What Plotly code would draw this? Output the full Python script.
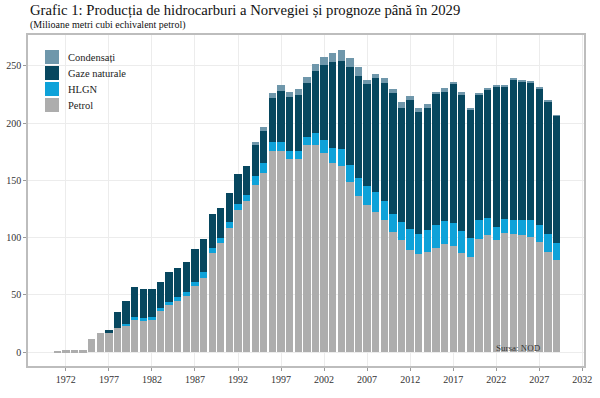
import plotly.graph_objects as go

years = list(range(1971, 2030))

petrol = [0.5, 1.7, 1.7, 1.7, 11, 16.3, 16.3, 20.7, 23, 28,
          27.4, 28, 35.8, 41, 44.6, 49.2, 57.7, 65, 86.2, 95,
          108.7, 124.1, 132.3, 146, 156.7, 175.7, 175.7, 168.5, 168.5, 181,
          181, 173.7, 164.9, 162.6, 148.9, 136.4, 128.5, 122.6, 115, 104.5,
          97.9, 89.5, 85.5, 87.7, 90.6, 94.1, 92.7, 86.3, 83.3, 98.5,
          102.3, 97.9, 104.3, 103.1, 102.3, 100.8, 96.4, 87.7, 80]

hlgn = [0, 0, 0, 0, 0, 0, 0, 0, 1.5, 2.9,
        2.0, 2.6, 2.4, 2.4, 3.8, 3.5, 3.8, 4.6, 5.0, 4.9,
        4.9, 5.0, 4.9, 7.8, 8.2, 7.6, 7.6, 7.5, 7.5, 7.2,
        10.2, 11.6, 13.7, 14.6, 14.6, 15.4, 16.6, 17.5, 17.0, 15.9,
        16.0, 18.3, 17.9, 18.9, 20.4, 20.4, 20.3, 19.7, 16.6, 16.9,
        14.6, 11.6, 12.0, 12.3, 13.1, 14.6, 14.6, 15.2, 15.5]

gaze = [0, 0, 0, 0, 0, 0, 2.9, 14.3, 20.1, 25.6,
        25.6, 24.4, 23.3, 26.2, 24.7, 26.3, 28.3, 28.9, 29.2, 25.7,
        25.1, 26.2, 25.7, 27.2, 28.6, 39.0, 44.8, 47.2, 48.4, 47.2,
        54.4, 65.6, 74.4, 77.4, 85.9, 89.5, 89.2, 99.1, 103.0, 105.7,
        99.7, 112.5, 106.7, 106.4, 114.2, 113.0, 121.3, 119.2, 112.2, 109.9,
        112.2, 122.2, 115.4, 122.4, 120.9, 120.0, 119.5, 115.9, 110.8]

condensati = [0, 0, 0, 0, 0, 0, 0, 0, 0, 0,
              0, 0, 0, 0, 0, 0, 0, 0, 0, 0,
              0, 0, 0, 2.3, 2.9, 3.8, 5.3, 4.3, 5.2, 5.3,
              5.9, 7.2, 8.0, 9.4, 7.3, 7.6, 3.0, 3.5, 4.4, 3.8,
              4.7, 3.8, 3.5, 3.5, 2.3, 3.0, 2.0, 1.7, 1.4, 0.8,
              0.8, 0.8, 0.8, 1.4, 0.8, 0.8, 0.8, 0.8, 0.5]

series_names = ["Petrol", "HLGN", "Gaze naturale", "Condensați"]
series_values = [petrol, hlgn, gaze, condensati]
series_colors = ["#adadad", "#0ea2d9", "#07475f", "#6f97ab"]

x_ticks = list(range(1972, 2033, 5))
y_ticks = [0, 50, 100, 150, 200, 250]

FONT = "Liberation Serif"
W, H = 600, 398
ML, MR, MT, MB = 28, 16, 35, 32
PW, PH = W - ML - MR, H - MT - MB

fig = go.Figure()
for name, vals, col in zip(series_names, series_values, series_colors):
    fig.add_trace(go.Bar(x=years, y=vals, name=name, showlegend=False,
                         marker=dict(color=col, line=dict(width=0))))

# legend drawn as swatches + labels (top-left inside panel), Condensați first
shapes = []
annotations = []
leg_x0, leg_top, box, step, text_x = 45, 50, 14, 16, 66
for i, (name, col) in enumerate(zip(series_names[::-1], series_colors[::-1])):
    top = leg_top + i * step
    shapes.append(dict(type="rect", xref="paper", yref="paper",
                       x0=(leg_x0 - ML) / PW, x1=(leg_x0 + box - ML) / PW,
                       y0=1 - (top + box - MT) / PH, y1=1 - (top - MT) / PH,
                       fillcolor=col, line=dict(width=0), layer="above"))
    annotations.append(dict(text=name, xref="paper", yref="paper",
                            x=(text_x - ML) / PW, y=1 - (top + box / 2 - MT) / PH,
                            xanchor="left", yanchor="middle", showarrow=False,
                            font=dict(family=FONT, size=10.5, color="#222222")))

annotations += [
    dict(text="Grafic 1: Producția de hidrocarburi a Norvegiei și prognoze până în 2029",
         xref="paper", yref="paper", x=0.0, y=1 + (MT - 11) / PH, xanchor="left", yanchor="middle",
         showarrow=False, font=dict(family=FONT, size=14.7, color="#111111")),
    dict(text="(Milioane metri cubi echivalent petrol)",
         xref="paper", yref="paper", x=0.0, y=1 + (MT - 25) / PH, xanchor="left", yanchor="middle",
         showarrow=False, font=dict(family=FONT, size=10, color="#111111")),
    dict(text="Sursa: NOD", xref="x", yref="y", x=2024.6, y=3.3,
         xanchor="center", yanchor="middle", showarrow=False,
         font=dict(family=FONT, size=9, color="#333333")),
]

fig.update_layout(
    width=W, height=H,
    barmode="stack", bargap=0.15,
    paper_bgcolor="white", plot_bgcolor="white",
    margin=dict(l=ML, r=MR, t=MT, b=MB, autoexpand=False),
    font=dict(family=FONT, size=10, color="#333333"),
    showlegend=False,
    shapes=shapes,
    annotations=annotations,
)

fig.update_xaxes(
    range=[1967.6, 2032.2], tickvals=x_ticks, ticktext=[str(v) for v in x_ticks],
    automargin=False,
    showgrid=True, gridcolor="#ececec", gridwidth=1,
    showline=True, linecolor="#bdbdbd", linewidth=1.5, mirror=True,
    ticks="outside", ticklen=3, tickcolor="#999999",
    tickfont=dict(family=FONT, size=10, color="#333333"),
    zeroline=False,
)
fig.update_yaxes(
    range=[-12.2, 277], tickvals=y_ticks,
    automargin=False,
    showgrid=True, gridcolor="#ececec", gridwidth=1,
    showline=True, linecolor="#bdbdbd", linewidth=1.5, mirror=True,
    ticks="outside", ticklen=3, tickcolor="#999999",
    tickfont=dict(family=FONT, size=10, color="#333333"),
    zeroline=False,
)

fig.write_html("out.html",
               config={"displayModeBar": False},
               post_script="document.body.style.margin='0';document.body.style.padding='0';")
